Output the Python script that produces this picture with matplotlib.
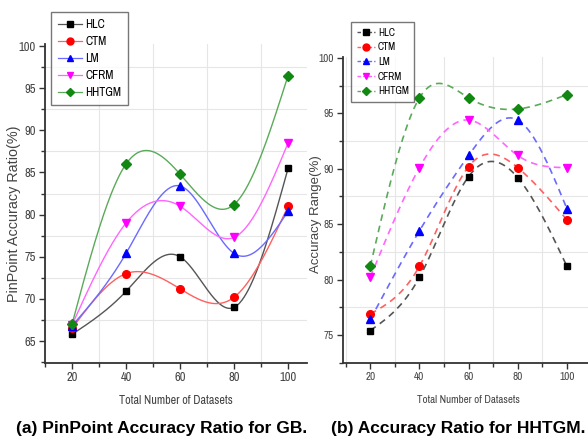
import numpy as np
import matplotlib
matplotlib.use("Agg")
import matplotlib.pyplot as plt
from matplotlib import font_manager as fm
from matplotlib.ticker import MultipleLocator

x_vals = [20, 40, 60, 80, 100]
series_names = ["HLC", "CTM", "LM", "CFRM", "HHTGM"]

# (a) PinPoint Accuracy Ratio for GB
gb_hlc = [65.8, 70.9, 75.0, 69.0, 85.5]
gb_ctm = [66.5, 73.0, 71.2, 70.2, 81.0]
gb_lm = [66.8, 75.4, 83.4, 75.4, 80.4]
gb_cfrm = [66.9, 79.0, 81.0, 77.3, 88.5]
gb_hhtgm = [67.0, 86.0, 84.8, 81.2, 96.5]

# (b) Accuracy Ratio for HHTGM
hh_hlc = [75.4, 80.2, 89.3, 89.2, 81.2]
hh_ctm = [76.9, 81.2, 90.2, 90.1, 85.4]
hh_lm = [76.4, 84.4, 91.2, 94.4, 86.4]
hh_cfrm = [80.2, 90.1, 94.4, 91.2, 90.1]
hh_hhtgm = [81.2, 96.4, 96.4, 95.4, 96.7]

marker_colors = ["black", "red", "blue", "magenta", "#118811"]
line_colors = ["#555555", "#ff6060", "#6a6aff", "#ff66ff", "#5aaa5a"]
markers = ["s", "o", "^", "v", "D"]

installed = {f.name for f in fm.fontManager.ttflist}
COND = None
for cand in ["Liberation Sans Narrow", "Arial Narrow", "Archivo Narrow", "PT Sans Narrow",
             "Roboto Condensed", "Pragati Narrow", "IBM Plex Sans Condensed",
             "Encode Sans Condensed", "Barlow Condensed", "Open Sans Condensed"]:
    if cand in installed:
        COND = dict(family=[cand, "DejaVu Sans"])
        break
if COND is None:
    COND = dict(family=["DejaVu Sans"], stretch="condensed")
REG = dict(family=["Liberation Sans", "DejaVu Sans"])

W, H = 588, 440
fig = plt.figure(figsize=(W / 100, H / 100), dpi=100)
renderer = fig.canvas.get_renderer()


def fit_fp(text, props, target_px, weight="normal", base=10.0):
    fp = fm.FontProperties(size=base, weight=weight, **props)
    t = fig.text(0, 0, text, fontproperties=fp)
    w = t.get_window_extent(renderer).width
    t.remove()
    return fm.FontProperties(size=base * target_px / w, weight=weight, **props)


def natural_spline(x, y, n=300):
    x = np.asarray(x, float)
    y = np.asarray(y, float)
    k = len(x)
    h = np.diff(x)
    A = np.zeros((k, k))
    b = np.zeros(k)
    A[0, 0] = 1
    A[-1, -1] = 1
    for i in range(1, k - 1):
        A[i, i - 1] = h[i - 1]
        A[i, i] = 2 * (h[i - 1] + h[i])
        A[i, i + 1] = h[i]
        b[i] = 6 * ((y[i + 1] - y[i]) / h[i] - (y[i] - y[i - 1]) / h[i - 1])
    M = np.linalg.solve(A, b)
    xs = np.linspace(x[0], x[-1], n)
    ys = np.empty_like(xs)
    for j, xv in enumerate(xs):
        i = min(np.searchsorted(x, xv, side="right") - 1, k - 2)
        t1 = x[i + 1] - xv
        t0 = xv - x[i]
        ys[j] = (M[i] * t1 ** 3 / (6 * h[i]) + M[i + 1] * t0 ** 3 / (6 * h[i])
                 + (y[i] / h[i] - M[i] * h[i] / 6) * t1
                 + (y[i + 1] / h[i] - M[i + 1] * h[i] / 6) * t0)
    return xs, ys


def px_axes(left, top, right, bottom):
    return fig.add_axes([left / W, 1 - bottom / H, (right - left) / W, (bottom - top) / H])


def style(ax, ylab, ylim, xlim, tick_fp, xlab_fp, ylab_fp):
    ax.set_xlim(*xlim)
    ax.set_ylim(*ylim)
    ax.xaxis.set_major_locator(MultipleLocator(20))
    ax.xaxis.set_minor_locator(MultipleLocator(10))
    ax.yaxis.set_major_locator(MultipleLocator(5))
    ax.yaxis.set_minor_locator(MultipleLocator(2.5))
    for s in ["top", "right"]:
        ax.spines[s].set_visible(False)
    for s in ["left", "bottom"]:
        ax.spines[s].set_linewidth(1.3)
        ax.spines[s].set_color("#333333")
    ax.tick_params(which="both", direction="out", color="#333333", width=1.0)
    ax.tick_params(which="major", length=4, labelcolor="#444444", pad=2.5)
    ax.tick_params(which="minor", length=3)
    ax.grid(which="minor", color="#e6e6e6", linewidth=0.8)
    ax.set_axisbelow(True)
    for lbl in ax.get_xticklabels() + ax.get_yticklabels():
        lbl.set_fontproperties(tick_fp)
    ax.set_xlabel("Total Number of Datasets", fontproperties=xlab_fp, color="#444444")
    ax.set_ylabel(ylab, fontproperties=ylab_fp, color="#444444")


ms_map = {"s": 5, "o": 5.5, "^": 5.5, "v": 5.5, "D": 5}

# Left panel
ax1 = px_axes(45, 44, 307, 363)
gb = [gb_hlc, gb_ctm, gb_lm, gb_cfrm, gb_hhtgm]
for name, ys, mc, lc, mk in zip(series_names, gb, marker_colors, line_colors, markers):
    xs, ss = natural_spline(x_vals, ys)
    ax1.plot(xs, ss, color=lc, lw=1.0, zorder=2)
    ax1.plot(x_vals, ys, linestyle="none", marker=mk, color=mc, ms=ms_map[mk], zorder=3)
    ax1.plot([], [], color=lc, lw=0.9, marker=mk, mfc=mc, mec=mc, ms=ms_map[mk] - 0.5, label=name)
style(ax1, "PinPoint Accuracy Ratio(%)", (62.4, 100.24), (10, 107),
      fm.FontProperties(size=9, **COND), fit_fp("Total Number of Datasets", COND, 114),
      fit_fp("PinPoint Accuracy Ratio(%)", REG, 176))
ax1.yaxis.set_label_coords(-31 / 262, (363 - 214) / 319)
ax1.xaxis.set_label_coords(0.5, -(400 - 363) / 319, )
ax1.xaxis.label.set_va("center")
ax1.yaxis.label.set_va("center")
leg1 = ax1.legend(loc="upper left", bbox_to_anchor=(51 / W, 1 - 12 / H), bbox_transform=fig.transFigure,
                  prop=fit_fp("HHTGM", COND, 36), frameon=True, fancybox=False, borderaxespad=0,
                  edgecolor="#555555", handlelength=2.0, handletextpad=0.25, labelspacing=0.5,
                  borderpad=0.6)
leg1.get_frame().set_linewidth(1.0)

# Right panel
ax2 = px_axes(343, 57, 590, 363)
hh = [hh_hlc, hh_ctm, hh_lm, hh_cfrm, hh_hhtgm]
for name, ys, mc, lc, mk in zip(series_names, hh, marker_colors, line_colors, markers):
    xs, ss = natural_spline(x_vals, ys)
    ax2.plot(xs, ss, color=lc, lw=1.2, ls=(0, (4, 3)), zorder=2)
    ax2.plot(x_vals, ys, linestyle="none", marker=mk, color=mc, ms=ms_map[mk], zorder=3)
    ax2.plot([], [], color=lc, lw=1.0, ls=(0, (2.5, 1.5)), marker=mk, mfc=mc, mec=mc,
             ms=ms_map[mk] - 0.5, label=name)
style(ax2, "Accuracy Range(%)", (72.47, 100.09), (8.9, 109.4),
      fm.FontProperties(size=8, **COND), fit_fp("Total Number of Datasets", COND, 103),
      fit_fp("Accuracy Range(%)", REG, 118))
ax2.yaxis.set_label_coords(-(343 - 316) / 247, (363 - 214) / 306)
ax2.xaxis.set_label_coords((468 - 343) / 247, -(400 - 363) / 306)
ax2.xaxis.label.set_va("center")
ax2.yaxis.label.set_va("center")
leg2 = ax2.legend(loc="upper left", bbox_to_anchor=(351 / W, 1 - 22 / H), bbox_transform=fig.transFigure,
                  prop=fit_fp("HHTGM", COND, 31), frameon=True, fancybox=False, borderaxespad=0,
                  edgecolor="#555555", handlelength=1.8, handletextpad=0.25, labelspacing=0.45,
                  borderpad=0.55)
leg2.get_frame().set_linewidth(1.0)

fig.text(161.5 / W, 1 - 428 / H, "(a) PinPoint Accuracy Ratio for GB.",
         fontproperties=fit_fp("(a) PinPoint Accuracy Ratio for GB.", REG, 290, weight="bold"),
         ha="center", va="center")
fig.text(458.5 / W, 1 - 428 / H, "(b) Accuracy Ratio for HHTGM.",
         fontproperties=fit_fp("(b) Accuracy Ratio for HHTGM.", REG, 253, weight="bold"),
         ha="center", va="center")

fig.savefig("out.png", dpi=100)
